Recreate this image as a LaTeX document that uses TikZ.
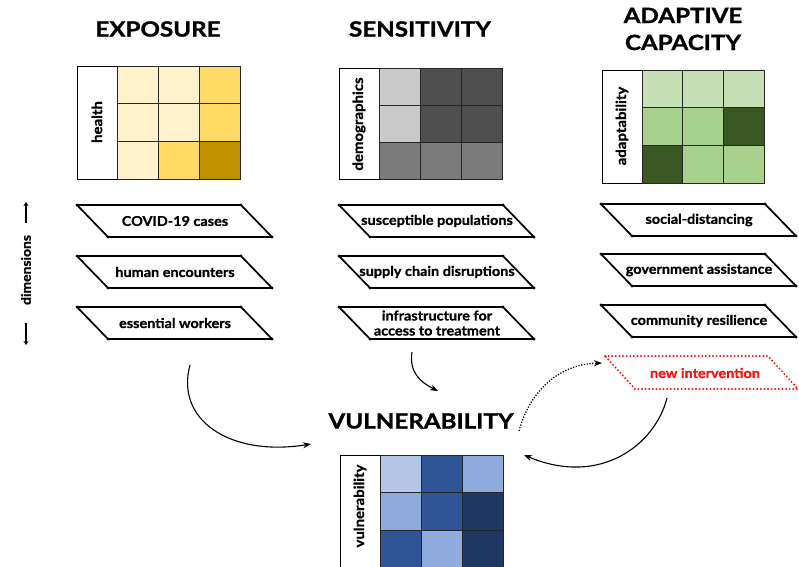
\documentclass[tikz,border=0pt]{standalone}
\usepackage{fontspec}
\setmainfont{Lato}
\newfontfamily\tfont{Lato}[FakeStretch=1.15, FakeBold=1.2]
\newfontfamily\bfont{Lato}[FakeStretch=1.07, FakeBold=1.0]
\usetikzlibrary{arrows.meta}
\definecolor{eL}{HTML}{FFF2CC}\definecolor{eM}{HTML}{FFD966}\definecolor{eD}{HTML}{BF9000}
\definecolor{sL}{HTML}{C9C9C9}\definecolor{sM}{HTML}{7B7B7B}\definecolor{sD}{HTML}{4F4F4F}
\definecolor{aL}{HTML}{C5E0B4}\definecolor{aM}{HTML}{A9D18E}\definecolor{aD}{HTML}{385723}
\definecolor{vL}{HTML}{B4C7E7}\definecolor{vM}{HTML}{8FAADC}\definecolor{vD}{HTML}{2F5597}\definecolor{vX}{HTML}{1F3864}
\definecolor{ivred}{HTML}{FF1010}
\tikzset{
  title/.style={font=\tfont\bfseries\fontsize{21}{27}\selectfont, align=center},
  lbl/.style={font=\bfont\bfseries\fontsize{14}{16}\selectfont, rotate=90},
  ptext/.style={font=\bfont\bfseries\fontsize{13.5}{15}\selectfont, align=center},
  pbox/.style={line width=1.7pt, line join=round},
  cellb/.style={draw=black!85, line width=1pt},
  conn/.style={line width=1.1pt, -{Stealth[length=8pt,width=6pt]}},
  dimarrow/.style={line width=1.5pt, -{Stealth[length=4pt,width=5pt]}},
}
\newcommand\mkgrid[5]{% x, y, cellw, cellh, colours
  \draw[line width=0.9pt, fill=white] (#1,#2) rectangle ++(40,{3*#4});
  \foreach \col [count=\k from 0] in {#5} {
    \pgfmathtruncatemacro\rr{int(\k/3)}
    \pgfmathtruncatemacro\cc{mod(\k,3)}
    \filldraw[fill=\col, cellb] ({#1+40+\cc*#3},{#2+\rr*#4}) rectangle ++(#3,#4);
  }}
\newcommand\para[5]{% name, x, y, text, colour
  \draw[pbox, draw=#5] (#2,#3) -- ++(164,0) -- ++(31,32) -- ++(-164,0) -- cycle;
  \foreach \dx/\dy in {0/0,164/0,195/32,31/32} \fill[#5] ({#2+\dx},{#3+\dy}) circle (1.7);
  \node[ptext, text=#5] (#1) at ({#2+98},{#3+16}) {#4};}
\begin{document}
\begin{tikzpicture}[x=1pt,y=-1pt]
\useasboundingbox[fill=white] (0,0) rectangle (799,566);

% titles
\node[title] (tExp) at (158,29) {EXPOSURE};
\node[title] (tSen) at (420,29) {SENSITIVITY};
\node[title] (tAda) at (683,29) {ADAPTIVE\\CAPACITY};
\node[title] (tVul) at (421,421) {VULNERABILITY};

% grids
\mkgrid{77}{66}{41}{37.7}{eL,eL,eM,eL,eL,eM,eL,eM,eD}
\node[lbl] (lExp) at (97,122) {health};
\mkgrid{339}{68}{41.3}{37.3}{sL,sD,sD,sL,sD,sD,sM,sM,sM}
\node[lbl] (lSen) at (359,124) {demographics};
\mkgrid{602}{70}{40.7}{37.7}{aL,aL,aL,aM,aM,aD,aD,aM,aM}
\node[lbl] (lAda) at (622,126) {adaptability};
\mkgrid{340}{455}{41}{37.5}{vL,vD,vM,vM,vD,vX,vD,vM,vX}
\node[lbl] (lVul) at (360,506) {vulnerability};

% dimensions
\node[lbl, font=\bfont\bfseries\fontsize{13}{15}\selectfont] (dim) at (26,270) {dimensions};
\coordinate (dtop) at (26,202);
\coordinate (dbot) at (26,345);
\draw[dimarrow] (26,223) -- (dtop);
\draw[dimarrow] (26,323) -- (dbot);

% parallelograms
\para{p1}{77}{205}{COVID-19 cases}{black}
\para{p2}{77}{256}{human encounters}{black}
\para{p3}{77}{307}{essential workers}{black}
\para{p4}{339}{205}{susceptible populations}{black}
\para{p5}{339}{256}{supply chain disruptions}{black}
\para{p6}{339}{307}{infrastructure for\\access to treatment}{black}
\para{p7}{601}{204}{social-distancing}{black}
\para{p8}{601}{254}{government assistance}{black}
\para{p9}{601}{305}{community resilience}{black}
% new intervention
\draw[ivred, line width=2.2pt, dash pattern=on 0pt off 3.6pt, line cap=round]
  (605,356) -- (768,356) -- (798,389) -- (635,389) -- cycle;
\node[ptext, text=ivred] (pNew) at (705,373) {new intervention};

% connectors
\coordinate (a1s) at (190,365);
\coordinate (a1e) at (311,444);
\draw[conn] (a1s) .. controls (175,420) and (230,457) .. (a1e);
\coordinate (a2s) at (412,352);
\coordinate (a2e) at (438,391);
\draw[conn] (a2s) .. controls (409,372) and (420,382) .. (a2e);
\coordinate (a3s) at (519,431);
\coordinate (a3e) at (602,363);
\draw[line width=1.3pt, dash pattern=on 1.2pt off 1.6pt, -{Stealth[length=8pt,width=6pt]}]
  (a3s) .. controls (530,390) and (560,364) .. (a3e);
\coordinate (a4s) at (667,398);
\coordinate (a4e) at (524,455);
\draw[conn] (a4s) .. controls (655,445) and (600,487) .. (a4e);
\end{tikzpicture}
\end{document}
